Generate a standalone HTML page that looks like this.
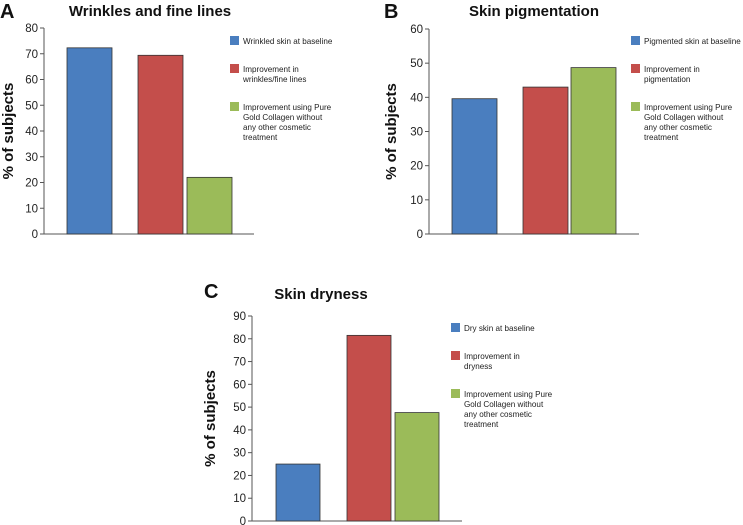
<!DOCTYPE html>
<html><head><meta charset="utf-8"><style>
body{margin:0;background:#fff;}
svg{display:block;font-family:"Liberation Sans",Arial,sans-serif;}
</style></head><body>
<svg id="chart" width="743" height="525"></svg>
<script>
const colors = ["#4a7ebf", "#c44e4b", "#9bbb59"];
const valuesA = [72.3, 69.4, 22.0];
const valuesB = [39.6, 43.0, 48.7];
const valuesC = [25.0, 81.5, 47.6];
const ticksA = [0,10,20,30,40,50,60,70,80];
const ticksB = [0,10,20,30,40,50,60];
const ticksC = [0,10,20,30,40,50,60,70,80,90];
const legendA = [["Wrinkled skin at baseline"],["Improvement in","wrinkles/fine lines"],["Improvement using Pure","Gold Collagen without","any other cosmetic","treatment"]];
const legendB = [["Pigmented skin at baseline"],["Improvement in","pigmentation"],["Improvement using Pure","Gold Collagen without","any other cosmetic","treatment"]];
const legendC = [["Dry skin at baseline"],["Improvement in","dryness"],["Improvement using Pure","Gold Collagen without","any other cosmetic","treatment"]];

const NS="http://www.w3.org/2000/svg";
const svg=document.getElementById('chart');
function mk(tag,attrs,parent,text){const e=document.createElementNS(NS,tag);for(const k in attrs)e.setAttribute(k,attrs[k]);if(text!==undefined)e.textContent=text;(parent||svg).appendChild(e);return e;}

function panel(cfg){
  const g=mk('g',{});
  
  
  const ymax=cfg.ticks[cfg.ticks.length-1];
  const y=v=>cfg.y0-(v/ymax)*(cfg.y0-cfg.yTop);
  const l=mk('text',{x:cfg.lx,y:cfg.ly,'font-size':20,'font-weight':'bold',fill:'#111'},g,cfg.id);
   
  const t=mk('text',{x:cfg.tx,y:cfg.ty,'font-size':15,'font-weight':'bold','text-anchor':'middle',fill:'#111'},g,cfg.title);
   
  const yt=mk('text',{x:0,y:0,'font-size':15,'font-weight':'bold','text-anchor':'middle',fill:'#111',transform:`translate(${cfg.ytx},${(cfg.y0+cfg.yTop)/2}) rotate(-90)`},g,'% of subjects');
   
  const ax=mk('path',{d:`M${cfg.ax},${cfg.yTop}V${cfg.y0}H${cfg.axEnd}`,stroke:'#555','stroke-width':1,fill:'none'},g);
   
  cfg.ticks.forEach(v=>{
    const tk=mk('line',{x1:cfg.ax-4,x2:cfg.ax,y1:y(v),y2:y(v),stroke:'#555'},g);
     
    const tl=mk('text',{x:cfg.ax-6,y:y(v)+4,'font-size':11.5,'text-anchor':'end',fill:'#222'},g,String(v));
     
  });
  cfg.values.forEach((v,i)=>{
    const b=mk('rect',{x:cfg.bx[i],y:y(v),width:cfg.bw,height:cfg.y0-y(v),fill:colors[i],stroke:'#333','stroke-width':0.8},g);
     
  });
  let ly=cfg.legY;
  cfg.legend.forEach((lines,i)=>{
    const s=mk('rect',{x:cfg.legX,y:ly-8,width:9,height:9,fill:colors[i]},g);
     
    lines.forEach((ln,j)=>{
      const tx=mk('text',{x:cfg.legX+13,y:ly+j*10,'font-size':8.1,fill:'#222'},g,ln);
       
    });
    ly+=lines.length*10+18;
  });
}
panel({id:'A',title:'Wrinkles and fine lines',values:valuesA,ticks:ticksA,legend:legendA,lx:0,ly:18,tx:150,ty:16,ytx:13,ax:44,axEnd:254,y0:234,yTop:28,bx:[67,138,187],bw:45,legX:230,legY:44});
panel({id:'B',title:'Skin pigmentation',values:valuesB,ticks:ticksB,legend:legendB,lx:384,ly:18,tx:534,ty:16,ytx:396,ax:429,axEnd:639,y0:234,yTop:29,bx:[452,523,571],bw:45,legX:631,legY:44});
panel({id:'C',title:'Skin dryness',values:valuesC,ticks:ticksC,legend:legendC,lx:204,ly:298,tx:321,ty:299,ytx:215,ax:252,axEnd:462,y0:521,yTop:316,bx:[276,347,395],bw:44,legX:451,legY:331});
</script>
</body></html>
